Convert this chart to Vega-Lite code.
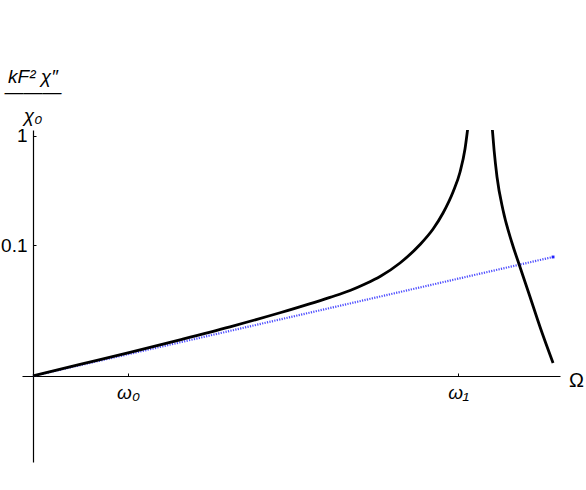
{
  "$schema": "https://vega.github.io/schema/vega-lite/v6.json",
  "width": 538,
  "height": 332,
  "autosize": {"type": "none"},
  "padding": {"left": 22, "top": 130, "right": 26, "bottom": 28},
  "background": "white",
  "config": {"view": {"stroke": null}, "font": "Liberation Sans"},
  "title": {
    "text": ["kF² χ″", "———"],
    "subtitle": "χ₀",
    "anchor": "start",
    "frame": "group",
    "align": "center",
    "dx": 11,
    "fontSize": 19,
    "fontStyle": "italic",
    "fontWeight": "normal",
    "lineHeight": 15,
    "subtitleFontSize": 19,
    "subtitleFontStyle": "italic",
    "subtitleColor": "black",
    "subtitlePadding": 5,
    "offset": 1,
    "color": "black",
    "font": "Liberation Sans",
    "subtitleFont": "Liberation Sans"
  },
  "datasets": {
    "curves": [
      {"s": "chi", "b": "L", "x": 0, "y": 0},
      {"s": "chi", "b": "L", "x": 0.495, "y": 0.001944},
      {"s": "chi", "b": "L", "x": 1.021, "y": 0.004575},
      {"s": "chi", "b": "L", "x": 1.547, "y": 0.00805},
      {"s": "chi", "b": "L", "x": 2.074, "y": 0.012744},
      {"s": "chi", "b": "L", "x": 2.6, "y": 0.019419},
      {"s": "chi", "b": "L", "x": 3.126, "y": 0.029356},
      {"s": "chi", "b": "L", "x": 3.337, "y": 0.03493},
      {"s": "chi", "b": "L", "x": 3.495, "y": 0.04096},
      {"s": "chi", "b": "L", "x": 3.653, "y": 0.049},
      {"s": "chi", "b": "L", "x": 3.863, "y": 0.06698},
      {"s": "chi", "b": "L", "x": 4.074, "y": 0.1013},
      {"s": "chi", "b": "L", "x": 4.211, "y": 0.142},
      {"s": "chi", "b": "L", "x": 4.316, "y": 0.2},
      {"s": "chi", "b": "L", "x": 4.421, "y": 0.31178},
      {"s": "chi", "b": "L", "x": 4.495, "y": 0.47377},
      {"s": "chi", "b": "L", "x": 4.547, "y": 0.7641},
      {"s": "chi", "b": "L", "x": 4.579, "y": 1.229},
      {"s": "chi", "b": "R", "x": 4.832, "y": 1.229},
      {"s": "chi", "b": "R", "x": 4.853, "y": 0.7483},
      {"s": "chi", "b": "R", "x": 4.884, "y": 0.4269},
      {"s": "chi", "b": "R", "x": 4.947, "y": 0.2132},
      {"s": "chi", "b": "R", "x": 5.042, "y": 0.1047},
      {"s": "chi", "b": "R", "x": 5.126, "y": 0.06112},
      {"s": "chi", "b": "R", "x": 5.232, "y": 0.02966},
      {"s": "chi", "b": "R", "x": 5.337, "y": 0.01266},
      {"s": "chi", "b": "R", "x": 5.474, "y": 0.002233},
      {"s": "lin", "b": "A", "x": 0, "y": 0},
      {"s": "lin", "b": "A", "x": 0.547, "y": 0.00202},
      {"s": "lin", "b": "A", "x": 1.095, "y": 0.0046},
      {"s": "lin", "b": "A", "x": 1.642, "y": 0.00789},
      {"s": "lin", "b": "A", "x": 2.189, "y": 0.0121},
      {"s": "lin", "b": "A", "x": 2.737, "y": 0.01746},
      {"s": "lin", "b": "A", "x": 3.284, "y": 0.02432},
      {"s": "lin", "b": "A", "x": 3.832, "y": 0.03307},
      {"s": "lin", "b": "A", "x": 4.379, "y": 0.04424},
      {"s": "lin", "b": "A", "x": 4.926, "y": 0.0585},
      {"s": "lin", "b": "A", "x": 5.474, "y": 0.07672}
    ]
  },
  "data": {"name": "curves"},
  "encoding": {
    "x": {
      "field": "x",
      "type": "quantitative",
      "scale": {"domain": [-0.1158, 5.547], "nice": false, "zero": false},
      "axis": {
        "orient": "bottom",
        "offset": -86,
        "values": [1, 4.474],
        "labelExpr": "datum.value < 2 ? 'ω₀' : 'ω₁'",
        "grid": false,
        "domainColor": "black",
        "domainWidth": 1.2,
        "tickColor": "black",
        "tickSize": -3,
        "labelPadding": 10,
        "labelFontSize": 19,
        "labelFontStyle": "italic",
        "labelColor": "black",
        "labelFont": "Liberation Sans",
        "title": "Ω",
        "titleFontSize": 20,
        "titleFontWeight": "normal",
        "titleColor": "black",
        "titleFont": "Liberation Sans",
        "titleX": 554,
        "titleY": 4,
        "titleAlign": "center",
        "titleBaseline": "middle"
      }
    },
    "y": {
      "field": "y",
      "type": "quantitative",
      "scale": {"type": "symlog", "constant": 0.0073, "domain": [-0.0354, 1.132], "nice": false, "zero": false},
      "axis": {
        "orient": "left",
        "offset": -11,
        "values": [0.1, 1],
        "labelExpr": "datum.value == 1 ? '1' : '0.1'",
        "grid": false,
        "domainColor": "black",
        "domainWidth": 1.2,
        "tickColor": "black",
        "tickSize": -3,
        "labelPadding": 9,
        "labelFontSize": 19,
        "labelColor": "black",
        "labelFont": "Liberation Sans",
        "title": null
      }
    }
  },
  "layer": [
    {
      "transform": [{"filter": "datum.s == 'lin'"}],
      "mark": {"type": "line", "color": "#3838ff", "strokeWidth": 2.2, "strokeDash": [1.2, 1.3], "opacity": 0.9, "clip": true}
    },
    {
      "transform": [{"filter": "datum.s == 'lin' && datum.x > 5.4"}],
      "mark": {"type": "square", "color": "#2020ff", "size": 8, "opacity": 1}
    },
    {
      "transform": [{"filter": "datum.s == 'chi'"}],
      "mark": {"type": "line", "color": "black", "strokeWidth": 2.8, "clip": true, "interpolate": "monotone"},
      "encoding": {"detail": {"field": "b"}}
    }
  ]
}
